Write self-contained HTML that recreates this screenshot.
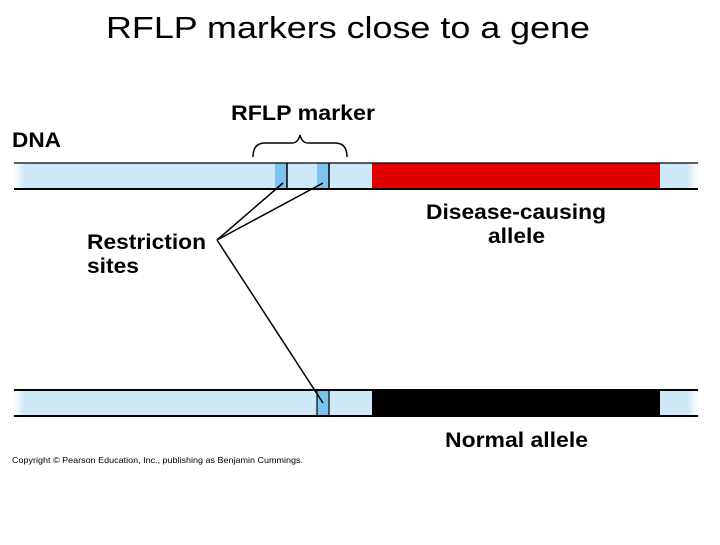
<!DOCTYPE html>
<html><head><style>
body{margin:0;background:#fff;width:720px;height:540px;overflow:hidden;font-family:"Liberation Sans",Arial,sans-serif}
</style></head><body>
<svg width="720" height="540" xmlns="http://www.w3.org/2000/svg" font-family="Liberation Sans, Arial, sans-serif">
<text x="106" y="38" font-size="31" fill="#000" textLength="484" lengthAdjust="spacingAndGlyphs">RFLP markers close to a gene</text>
<defs>
<linearGradient id="fade" x1="0" x2="1">
<stop offset="0" stop-color="#fff"/><stop offset="0.015" stop-color="#cfe8f8"/><stop offset="0.985" stop-color="#cfe8f8"/><stop offset="1" stop-color="#fff"/>
</linearGradient>
</defs>
<rect x="14" y="163" width="684" height="26" fill="url(#fade)"/>
<rect x="372" y="163" width="288" height="26" fill="#e00000"/>
<rect x="275" y="163" width="12" height="26" fill="#7cc4f0"/>
<rect x="317" y="163" width="12" height="26" fill="#7cc4f0"/>
<line x1="287" y1="163" x2="287" y2="189" stroke="#000" stroke-width="1.5"/>
<line x1="329" y1="163" x2="329" y2="189" stroke="#000" stroke-width="1.5"/>
<line x1="14" y1="163" x2="698" y2="163" stroke="#000" stroke-width="1.2"/>
<line x1="14" y1="189" x2="698" y2="189" stroke="#000" stroke-width="2"/>
<rect x="14" y="390" width="684" height="26" fill="url(#fade)"/>
<rect x="372" y="390" width="288" height="26" fill="#000"/>
<rect x="317" y="390" width="12" height="26" fill="#7cc4f0"/>
<line x1="317" y1="390" x2="317" y2="416" stroke="#000" stroke-width="1.2"/>
<line x1="329" y1="390" x2="329" y2="416" stroke="#000" stroke-width="1.2"/>
<line x1="14" y1="390" x2="698" y2="390" stroke="#000" stroke-width="2"/>
<line x1="14" y1="416" x2="698" y2="416" stroke="#000" stroke-width="2"/>
<path d="M253 157 Q253 143 265 143 L292 143 Q298 143 300 135 Q302 143 308 143 L335 143 Q347 143 347 157" fill="none" stroke="#000" stroke-width="1.5"/>
<g stroke="#000" stroke-width="1.5" fill="none">
<line x1="217" y1="240" x2="283" y2="183"/>
<line x1="217" y1="240" x2="323" y2="183"/>
<line x1="217" y1="240" x2="323" y2="403"/>
</g>
<g font-weight="bold" fill="#000" font-size="21" lengthAdjust="spacingAndGlyphs">
<text x="12" y="147" textLength="49" lengthAdjust="spacingAndGlyphs">DNA</text>
<text x="231" y="120" textLength="144" lengthAdjust="spacingAndGlyphs">RFLP marker</text>
<text x="87" y="249" textLength="119" lengthAdjust="spacingAndGlyphs">Restriction</text>
<text x="87" y="273" textLength="52" lengthAdjust="spacingAndGlyphs">sites</text>
<text x="426" y="219" textLength="180" lengthAdjust="spacingAndGlyphs">Disease-causing</text>
<text x="488" y="243" textLength="57" lengthAdjust="spacingAndGlyphs">allele</text>
<text x="445" y="447" textLength="143" lengthAdjust="spacingAndGlyphs">Normal allele</text>
</g>
<text x="12" y="463" font-size="8.5" fill="#000" textLength="291" lengthAdjust="spacingAndGlyphs">Copyright © Pearson Education, Inc., publishing as Benjamin Cummings.</text>
</svg>
</body></html>
